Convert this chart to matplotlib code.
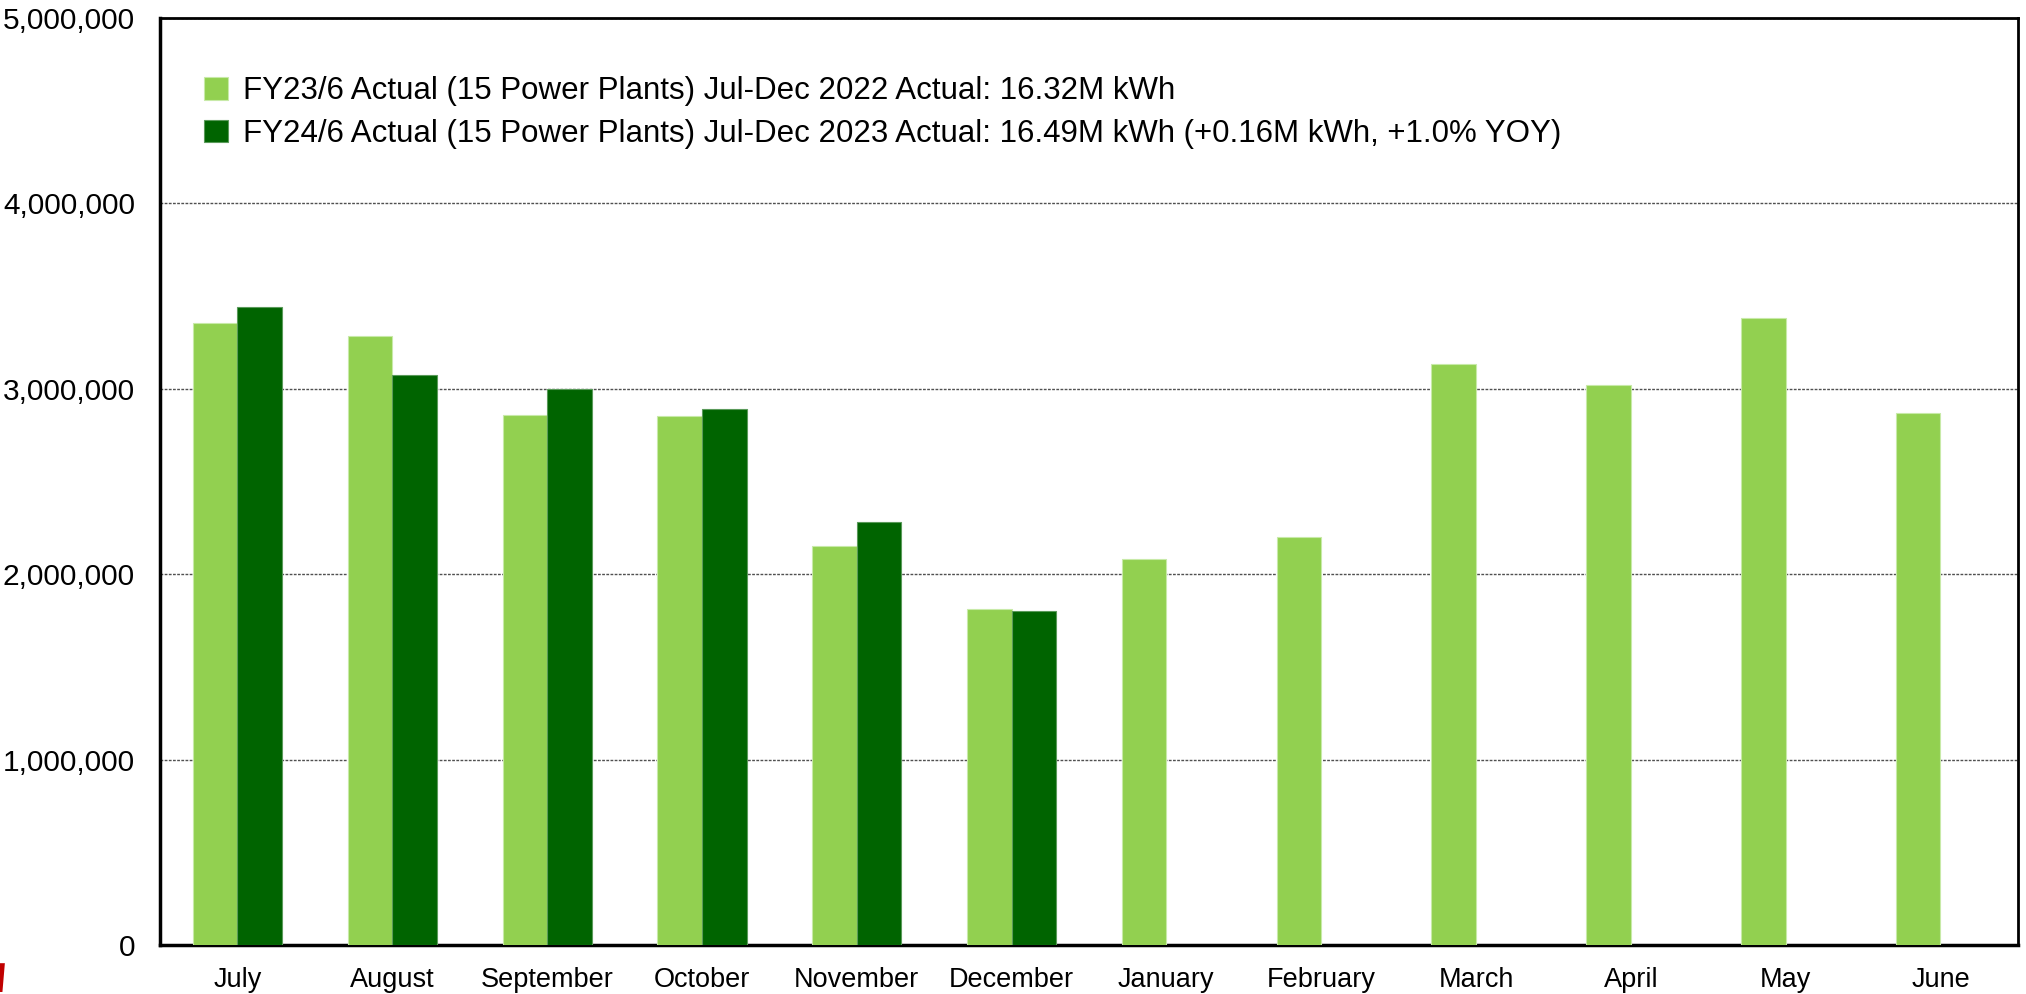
import matplotlib
matplotlib.use("Agg")
import matplotlib.pyplot as plt
import numpy as np
from matplotlib.ticker import FuncFormatter
from matplotlib.patches import Polygon

plt.rcParams['font.family'] = ['Liberation Sans', 'DejaVu Sans']

# 월별 발전량 (kWh)
months = ['July', 'August', 'September', 'October', 'November', 'December',
          'January', 'February', 'March', 'April', 'May', 'June']
fy23 = [3355000, 3287000, 2860000, 2852000, 2150000, 1812000,
        2081000, 2202000, 3134000, 3019000, 3384000, 2871000]
fy24 = [3443000, 3073000, 2997000, 2893000, 2280000, 1800000]

label23 = 'FY23/6 Actual (15 Power Plants) Jul-Dec 2022 Actual: 16.32M kWh'
label24 = ('FY24/6 Actual (15 Power Plants) Jul-Dec 2023 Actual: 16.49M kWh '
           '(+0.16M kWh, +1.0% YOY)')
yticks = [0, 1000000, 2000000, 3000000, 4000000, 5000000]

fig = plt.figure(figsize=(20.26, 9.94), dpi=100)
ax = fig.add_axes([0.079, 0.0493, 0.917, 0.9326])

x = np.arange(len(months))
w = 0.288
ax.bar(x - w / 2, fy23, width=w, color='#92D050', edgecolor='#c8eaa8',
       linewidth=0.8, label=label23, zorder=3)
ax.bar(x[:len(fy24)] + w / 2, fy24, width=w, color='#006400', edgecolor='#5a9a5a',
       linewidth=0.8, label=label24, zorder=3)

ax.set_xlim(-0.5, len(months) - 0.5)
ax.set_ylim(0, 5000000)
ax.set_yticks(yticks)
ax.yaxis.set_major_formatter(FuncFormatter(lambda v, p: f'{v:,.0f}'))
ax.set_xticks(x)
ax.set_xticklabels(months)
ax.tick_params(axis='both', length=0)
ax.tick_params(axis='y', pad=18, labelsize=21.5)
ax.tick_params(axis='x', pad=16, labelsize=19.5)

ax.yaxis.grid(True, linestyle=(0, (2, 1)), color='#505050', linewidth=1.0, zorder=0)
for sp in ax.spines.values():
    sp.set_color('black')
    sp.set_linewidth(2)
ax.spines['left'].set_linewidth(2.5)
ax.spines['bottom'].set_linewidth(2.5)

ax.legend(loc='upper left', bbox_to_anchor=(0.0237, 0.937), frameon=False,
          fontsize=22.5, handlelength=0.75, handleheight=0.75, handletextpad=0.5,
          labelspacing=0.4, borderpad=0, borderaxespad=0)

# 좌측 하단 잘린 로고 조각
fig.patches.append(Polygon([(0, 0.002), (0.0012, 0.002), (0.0024, 0.031), (0, 0.031)],
                           closed=True, facecolor='#c00000', edgecolor='none',
                           transform=fig.transFigure, figure=fig))

fig.savefig('out.png', dpi=100)
